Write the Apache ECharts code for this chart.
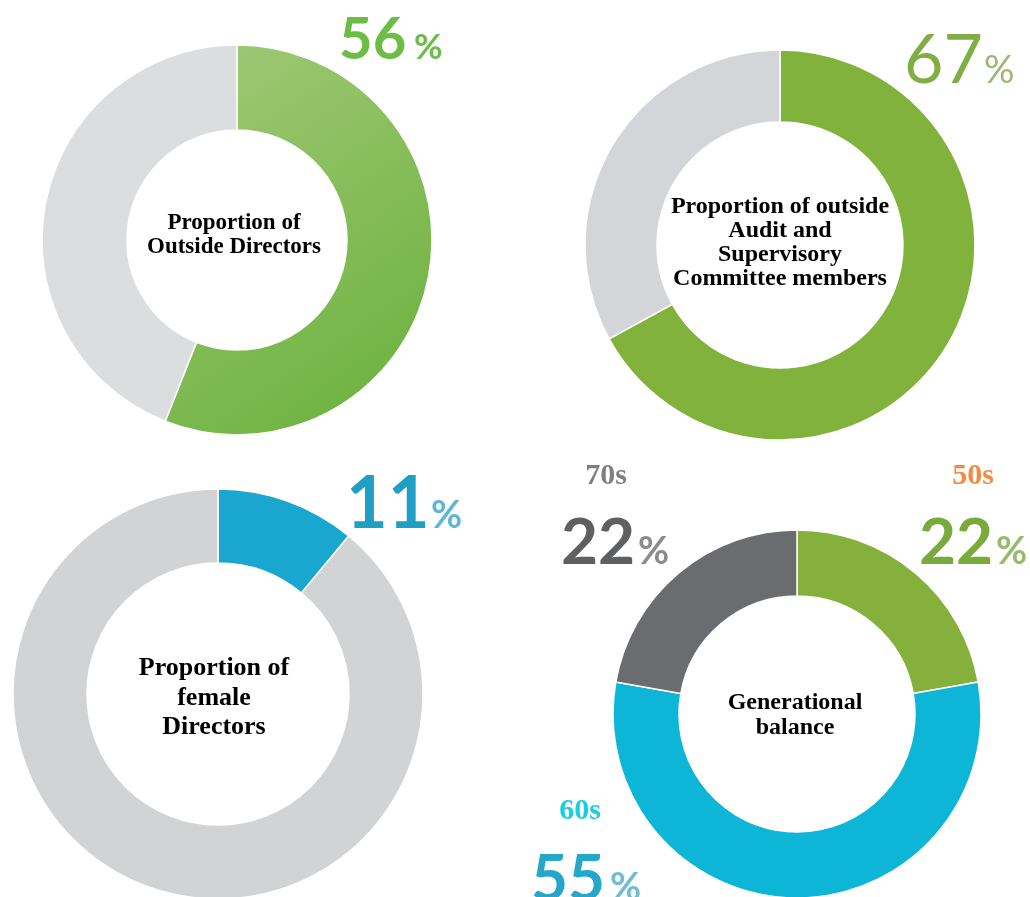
<!DOCTYPE html>
<html>
<head>
<meta charset="utf-8">
<script src="https://cdn.jsdelivr.net/npm/echarts@6/dist/echarts.min.js"></script>
<style>
  html, body { margin: 0; padding: 0; background: #ffffff; }
  #chart { width: 1030px; height: 897px; }
</style>
</head>
<body>
<div id="chart"></div>
<script>
// ---- data ----
const outsideCats = ['Outside Directors', 'Inside Directors'];
const outsideVals = [56, 44];
const auditCats = ['Outside members', 'Inside members'];
const auditVals = [67, 33];
const femaleCats = ['Female', 'Male'];
const femaleVals = [11, 89];
const genCats = ['50s', '60s', '70s'];
const genVals = [22, 55, 22];
const titles = [
  'Proportion of\nOutside Directors',
  'Proportion of outside\nAudit and\nSupervisory\nCommittee members',
  'Proportion of\nfemale\nDirectors',
  'Generational\nbalance'
];

function pieData(cats, vals, colors) {
  return cats.map((c, i) => ({ name: c, value: vals[i], itemStyle: { color: colors[i] } }));
}

const baseSeries = {
  type: 'pie',
  startAngle: 90,
  clockwise: true,
  silent: true,
  label: { show: false },
  labelLine: { show: false },
  avoidLabelOverlap: false,
  itemStyle: { borderColor: '#ffffff', borderWidth: 1.5 },
  emphasis: { disabled: true }
};

const green1 = {
  type: 'linear', x: 0, y: 0, x2: 1, y2: 1,
  colorStops: [{ offset: 0, color: '#a2c978' }, { offset: 1, color: '#68b03a' }]
};

const series = [
  Object.assign({}, baseSeries, {
    center: [237, 240], radius: [110, 195],
    data: pieData(outsideCats, outsideVals, [green1, '#dcdddf'])
  }),
  Object.assign({}, baseSeries, {
    center: [780, 245], radius: [123, 195],
    data: pieData(auditCats, auditVals, ['#80b23c', '#d3d5d8'])
  }),
  Object.assign({}, baseSeries, {
    center: [218, 694], radius: [131, 205],
    data: pieData(femaleCats, femaleVals, ['#1aa7cf', '#d1d3d5'])
  }),
  Object.assign({}, baseSeries, {
    center: [797, 714], radius: [118, 184],
    data: pieData(genCats, genVals, ['#86b03c', '#0db5d6', '#6b6c70'])
  })
];

// percentage labels: [text, x(left of digits), baseline, fontSize, weight, color, pctX, pctSize]
function pctLabel(val, x, base, fs, weight, color, px, ps, pcolor) {
  return [
    { type: 'text', left: null, style: {
      text: String(val), x: x, y: base - 0.305 * fs, align: 'left', verticalAlign: 'middle',
      font: weight + ' ' + fs + 'px Lato', fill: color } },
    { type: 'text', style: {
      text: '%', x: px, y: base - 0.305 * ps, align: 'left', verticalAlign: 'middle',
      font: weight + ' ' + ps + 'px Lato', fill: pcolor || color } }
  ];
}

let graphics = [];
graphics = graphics.concat(pctLabel(outsideVals[0], 339, 58, 58, 'bold', '#6cbd45', 414, 35));
graphics = graphics.concat(pctLabel(auditVals[0], 904, 82, 68, 'normal', '#7fae45', 984, 38, '#9ab873'));
graphics = graphics.concat(pctLabel(femaleVals[0], 346, 527, 72, 'bold', '#1f9fc4', 431, 38, '#5fb6d2'));
graphics = graphics.concat(pctLabel(genVals[2], 561, 563, 64, 'bold', '#5f6062', 638, 38, '#8a8b8d'));
graphics = graphics.concat(pctLabel(genVals[0], 919, 563, 64, 'bold', '#7aaa3c', 996, 38, '#97bb6a'));
graphics = graphics.concat(pctLabel(genVals[1], 531, 899, 64, 'bold', '#26a6c8', 610, 38, '#6fbcd4'));

// generation labels
const genLabelPos = [[973, 476, '#f58a42'], [580, 811, '#16cfe0'], [606, 476, '#7f7f7f']];
genCats.forEach((c, i) => {
  const p = genLabelPos[i];
  graphics.push({ type: 'text', style: {
    text: c, x: p[0], y: p[1], align: 'center', verticalAlign: 'middle',
    font: 'bold 30px "Liberation Serif"', fill: p[2] } });
});

// centre titles
const titlePos = [[234, 235, 23, 24], [780, 243, 24, 24], [214, 698, 26, 29.5], [795, 715, 24, 25]];
titles.forEach((t, i) => {
  const p = titlePos[i];
  graphics.push({ type: 'text', style: {
    text: t, x: p[0], y: p[1], align: 'center', verticalAlign: 'middle',
    font: 'bold ' + p[2] + 'px "Liberation Serif"', lineHeight: p[3], fill: '#000000' } });
});

const chart = echarts.init(document.getElementById('chart'), null, { renderer: 'canvas' });
chart.setOption({
  animation: false,
  backgroundColor: '#ffffff',
  series: series,
  graphic: graphics.map(g => { delete g.left; return g; })
});
</script>
</body>
</html>
